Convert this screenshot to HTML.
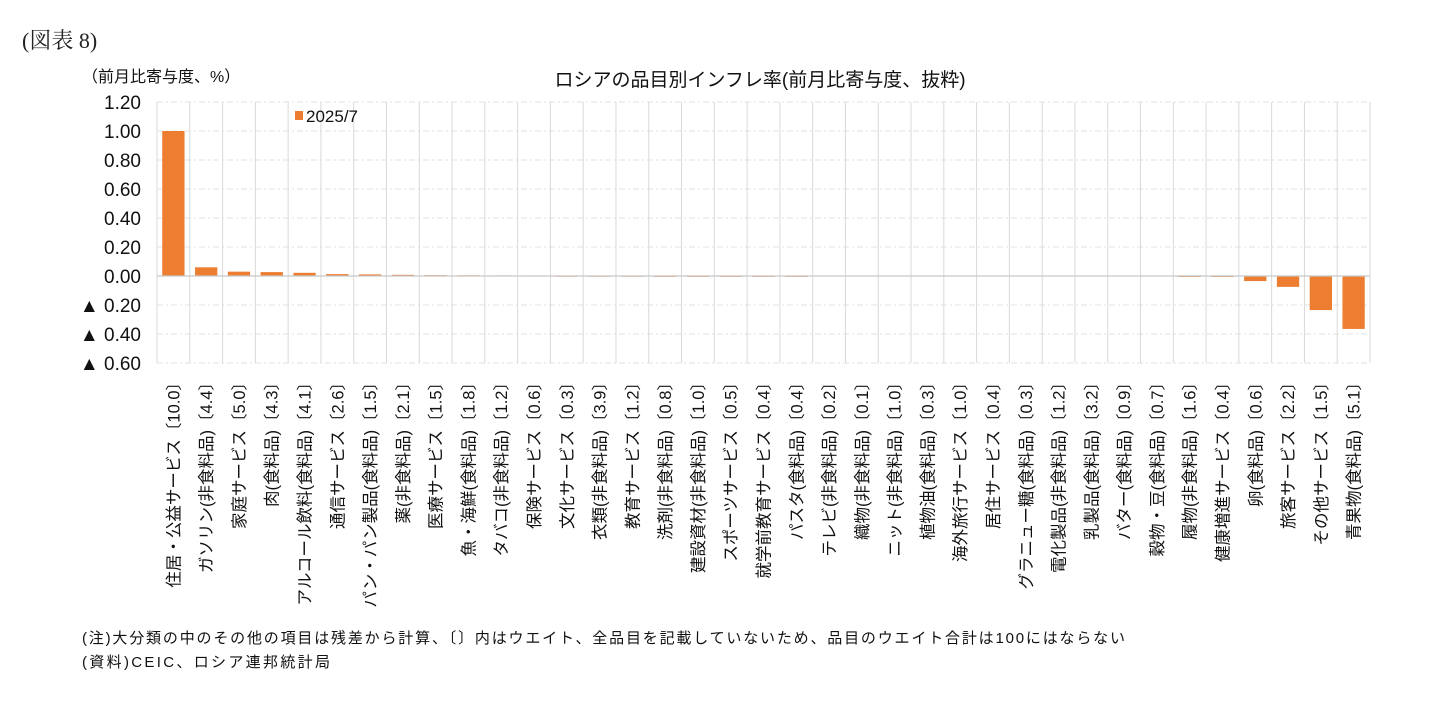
<!DOCTYPE html>
<html><head><meta charset="utf-8"><style>
body{margin:0;background:#fff;font-family:"Liberation Sans","Noto Sans CJK JP",sans-serif;}
</style></head><body>
<svg id="chart" width="1435" height="707" viewBox="0 0 1435 707" xmlns="http://www.w3.org/2000/svg" font-family="Liberation Sans, Noto Sans CJK JP, sans-serif">
<text x="22" y="48" font-size="22" font-family="Liberation Serif, Noto Serif CJK SC, serif" fill="#222">(図表 8)</text>
<text x="82" y="82" font-size="16" fill="#111">（前月比寄与度、%）</text>
<text x="760" y="86" font-size="19" text-anchor="middle" fill="#111">ロシアの品目別インフレ率(前月比寄与度、抜粋)</text>
<g id="grid"></g><g id="bars"></g><g id="axes"></g>
<rect x="295" y="111" width="8" height="9" fill="#ED7D31"/>
<text x="306" y="122" font-size="17" fill="#111">2025/7</text>
<text x="82" y="643" font-size="15" fill="#111" textLength="1043">(注)大分類の中のその他の項目は残差から計算、〔〕内はウエイト、全品目を記載していないため、品目のウエイト合計は100にはならない</text>
<text x="82" y="667" font-size="15" fill="#111" textLength="248">(資料)CEIC、ロシア連邦統計局</text>
</svg>
<script>
const categories=["住居・公益サービス〔10.0〕","ガソリン(非食料品)〔4.4〕","家庭サービス〔5.0〕","肉(食料品)〔4.3〕","アルコール飲料(食料品)〔4.1〕","通信サービス〔2.6〕","パン・パン製品(食料品)〔1.5〕","薬(非食料品)〔2.1〕","医療サービス〔1.5〕","魚・海鮮(食料品)〔1.8〕","タバコ(非食料品)〔1.2〕","保険サービス〔0.6〕","文化サービス〔0.3〕","衣類(非食料品)〔3.9〕","教育サービス〔1.2〕","洗剤(非食料品)〔0.8〕","建設資材(非食料品)〔1.0〕","スポーツサービス〔0.5〕","就学前教育サービス〔0.4〕","パスタ(食料品)〔0.4〕","テレビ(非食料品)〔0.2〕","織物(非食料品)〔0.1〕","ニット(非食料品)〔1.0〕","植物油(食料品)〔0.3〕","海外旅行サービス〔1.0〕","居住サービス〔0.4〕","グラニュー糖(食料品)〔0.3〕","電化製品(非食料品)〔1.2〕","乳製品(食料品)〔3.2〕","バター(食料品)〔0.9〕","穀物・豆(食料品)〔0.7〕","履物(非食料品)〔1.6〕","健康増進サービス〔0.4〕","卵(食料品)〔0.6〕","旅客サービス〔2.2〕","その他サービス〔1.5〕","青果物(食料品)〔5.1〕"];
const values=[1.00,0.06,0.03,0.027,0.022,0.013,0.011,0.008,0.006,0.005,0.004,0.003,0.002,0.002,0.002,0.001,0.001,0.001,0.001,0.001,0,0,0,0,0,0,0,0,0,0,0,-0.002,-0.005,-0.035,-0.075,-0.235,-0.365];
const yTicks=[1.2,1.0,0.8,0.6,0.4,0.2,0,-0.2,-0.4,-0.6];
const NS="http://www.w3.org/2000/svg";
const L=157,R=1370,T=102,B=363,yMin=-0.6,yMax=1.2;
const y=v=>T+(yMax-v)/(yMax-yMin)*(B-T);
const step=(R-L)/categories.length;
const x=i=>L+i*step;
function mk(tag,attrs,parent){const e=document.createElementNS(NS,tag);for(const k in attrs)e.setAttribute(k,attrs[k]);document.getElementById(parent).appendChild(e);return e;}
yTicks.forEach(t=>{
  if(t!==0){const g=mk('line',{x1:L,x2:R,y1:y(t),y2:y(t),stroke:'#e2e2e2','stroke-dasharray':'6,3,2,3'},'grid');
  
  }
  const lab=(t<0?'▲ ':'')+Math.abs(t).toFixed(2);
  const tx=mk('text',{x:141,y:y(t)+7,'font-size':19,'text-anchor':'end',fill:'#111'},'axes');
  tx.textContent=lab;
  
  
});
for(let i=0;i<=categories.length;i++){
  const g=mk('line',{x1:x(i),x2:x(i),y1:T,y2:B,stroke:'#d9d9d9'},'grid');
  
  
}
const z=mk('line',{x1:L,x2:R,y1:y(0),y2:y(0),stroke:'#c8c8c8','stroke-width':1.2},'axes');


const bw=step*0.68;
values.forEach((v,i)=>{
  const y0=y(0),y1=y(v);
  const r=mk('rect',{x:x(i)+(step-bw)/2,y:Math.min(y0,y1),width:bw,height:Math.max(Math.abs(y1-y0),v!==0?1:0),fill:'#ED7D31'},'bars');
  
  
});
categories.forEach((c,i)=>{
  const cx=x(i)+step/2+6, cy=374;
  const t=mk('text',{x:cx,y:cy,'font-size':16.5,'text-anchor':'end',fill:'#111',transform:`rotate(-90 ${cx} ${cy})`},'axes');
  t.textContent=c;
  
  
});
</script>
</body></html>
